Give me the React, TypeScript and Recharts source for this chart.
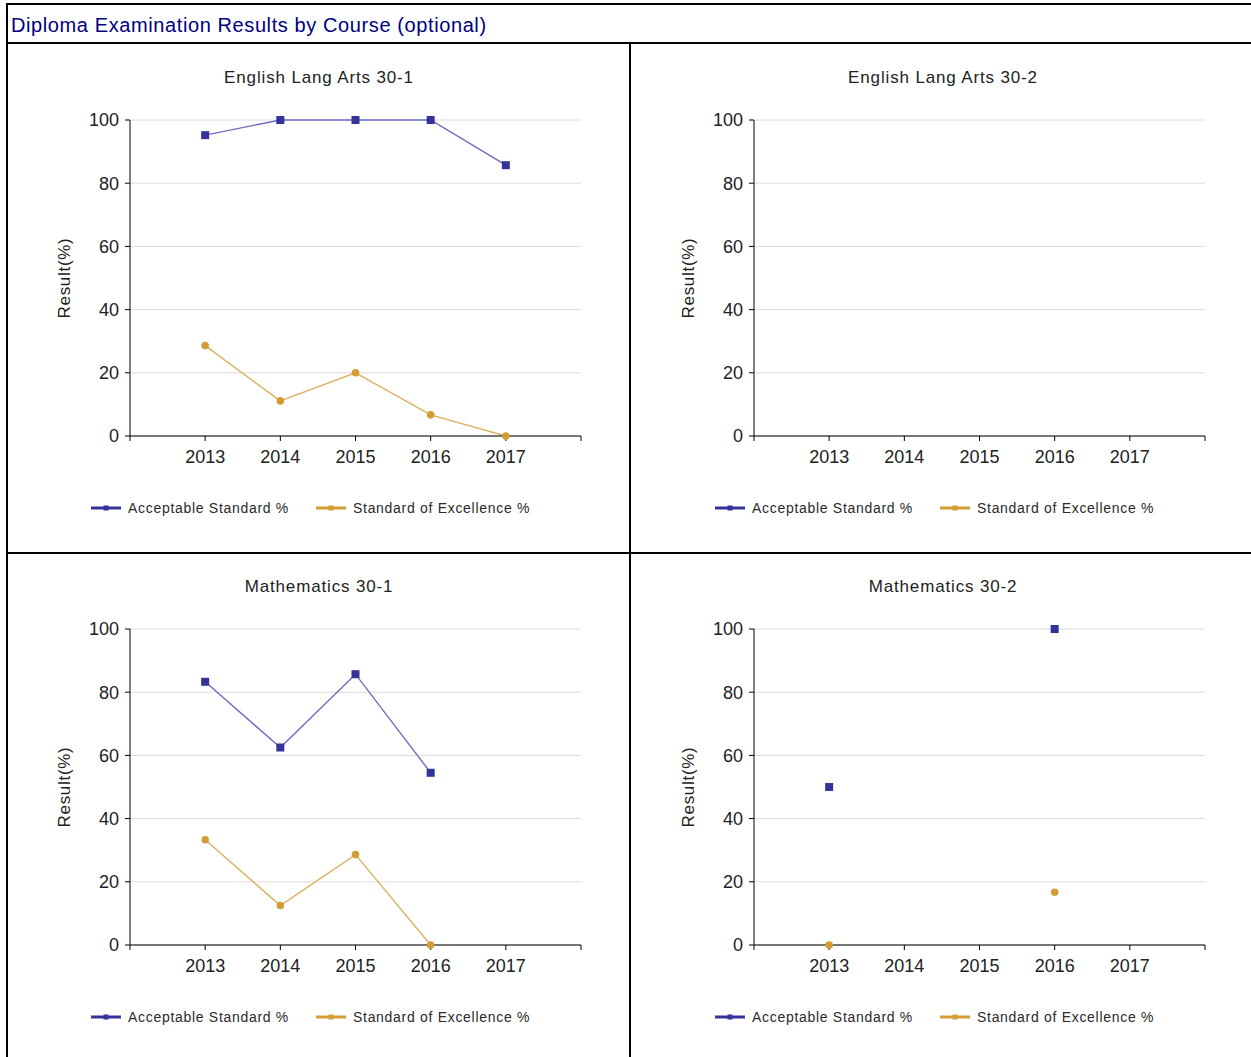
import React from 'react';
import { LineChart, Line, XAxis, YAxis, CartesianGrid, Legend } from 'recharts';

const years = [2013, 2014, 2015, 2016, 2017];
const yTicks = [0, 20, 40, 60, 80, 100];
const xTicks = [2012, 2013, 2014, 2015, 2016, 2017, 2018];

// values per course, null = no result
const ela301Acceptable = [95.2, 100, 100, 100, 85.7];
const ela301Excellence = [28.6, 11.1, 20, 6.7, 0];
const ela302Acceptable: (number | null)[] = [null, null, null, null, null];
const ela302Excellence: (number | null)[] = [null, null, null, null, null];
const math301Acceptable = [83.3, 62.5, 85.7, 54.5, null];
const math301Excellence = [33.3, 12.5, 28.6, 0, null];
const math302Acceptable = [50, null, null, 100, null];
const math302Excellence = [0, null, null, 16.7, null];

const courses = [
    { title: 'English Lang Arts 30-1', acc: ela301Acceptable, exc: ela301Excellence, left: 8, top: 45 },
    { title: 'English Lang Arts 30-2', acc: ela302Acceptable, exc: ela302Excellence, left: 632, top: 45 },
    { title: 'Mathematics 30-1', acc: math301Acceptable, exc: math301Excellence, left: 8, top: 554 },
    { title: 'Mathematics 30-2', acc: math302Acceptable, exc: math302Excellence, left: 632, top: 554 },
];

const ACC_MARK = '#333399';
const ACC_LINE = '#6d6dc2';
const EXC_MARK = '#d39d35';
const EXC_LINE = '#dbb262';
const FONT = '"Liberation Sans", Arial, sans-serif';

const SquareDot = (props: any) => {
    const { cx, cy, value } = props;
    if (value == null || cy == null) return <g key={props.key} />;
    return <rect key={props.key} x={cx - 4} y={cy - 4} width={8} height={8} fill={ACC_MARK} />;
};

const RoundDot = (props: any) => {
    const { cx, cy, value } = props;
    if (value == null || cy == null) return <g key={props.key} />;
    return <circle key={props.key} cx={cx} cy={cy} r={3.8} fill={EXC_MARK} />;
};

const LegendContent = () => {
    const item = (color: string, label: string, width: number) => (
        <div style={{ display: 'flex', alignItems: 'center', width }}>
            <svg width={30} height={8} style={{ marginRight: 7 }}>
                <rect x={0} y={2.5} width={30} height={3} fill={color} />
                <rect x={12.5} y={1.5} width={5} height={5} fill={color} />
            </svg>
            <span style={{ fontSize: 14, color: '#2a2a2a', letterSpacing: 0.7, fontFamily: FONT, whiteSpace: 'nowrap' }}>{label}</span>
        </div>
    );
    return (
        <div style={{ display: 'flex', paddingLeft: 83, height: 20, alignItems: 'center' }}>
            {item(ACC_MARK, 'Acceptable Standard %', 225)}
            {item(EXC_MARK, 'Standard of Excellence %', 250)}
        </div>
    );
};

const CoursePanel = ({ course }: { course: typeof courses[number] }) => {
    const data = years.map((y, i) => ({ year: y, acc: course.acc[i], exc: course.exc[i] }));
    // an empty course still needs its axes drawn from the fixed domains
    const empty = course.acc.every((v) => v == null) && course.exc.every((v) => v == null);
    return (
        <div style={{ position: 'absolute', left: course.left, top: course.top, width: 622, height: 506 }}>
            <div style={{ position: 'absolute', left: 0, top: 23, width: 622, textAlign: 'center', fontSize: 17, letterSpacing: 0.85, fontFamily: FONT, color: '#222' }}>
                {course.title}
            </div>
            <LineChart width={622} height={506} data={data} margin={{ top: 75, right: 49, left: 0, bottom: 33 }}>
                <CartesianGrid horizontal vertical={false} stroke="#dcdcdc" />
                <XAxis
                    dataKey="year"
                    type="number"
                    domain={[2012, 2018]}
                    allowDataOverflow={empty}
                    ticks={xTicks}
                    tickFormatter={(v: number) => (v === 2012 || v === 2018 ? '' : String(v))}
                    height={62}
                    tickSize={5}
                    tickMargin={9}
                    stroke="#000"
                    tick={{ fill: '#222', fontSize: 18, fontFamily: FONT }}
                />
                <YAxis
                    type="number"
                    domain={[0, 100]}
                    allowDataOverflow={empty}
                    ticks={yTicks}
                    width={122}
                    tickSize={5}
                    tickMargin={6}
                    stroke="#000"
                    tick={{ fill: '#222', fontSize: 18, fontFamily: FONT }}
                    label={{ value: 'Result(%)', angle: -90, position: 'center', dx: -5, style: { fill: '#222', fontSize: 17, letterSpacing: 0.7, fontFamily: FONT } }}
                />
                <Legend verticalAlign="bottom" height={20} content={LegendContent} />
                <Line dataKey="acc" stroke={ACC_LINE} strokeWidth={1.4} dot={SquareDot} activeDot={false} connectNulls={false} isAnimationActive={false} />
                <Line dataKey="exc" stroke={EXC_LINE} strokeWidth={1.4} dot={RoundDot} activeDot={false} connectNulls={false} isAnimationActive={false} />
            </LineChart>
        </div>
    );
};

export default function App() {
    return (
        <div style={{ position: 'absolute', left: 0, top: 0, width: 1251, height: 1057, overflow: 'hidden', background: '#fff' }}>
            {/* outer frame and title bar */}
            <div style={{ position: 'absolute', left: 6, top: 3, width: 1300, height: 1100, borderLeft: '2px solid #000', borderTop: '2px solid #000' }} />
            <div style={{ position: 'absolute', left: 8, top: 42, width: 1300, height: 2, background: '#000' }} />
            <div style={{ position: 'absolute', left: 629, top: 44, width: 2, height: 1100, background: '#000' }} />
            <div style={{ position: 'absolute', left: 8, top: 552, width: 1300, height: 2, background: '#000' }} />
            <div style={{ position: 'absolute', left: 11, top: 14, fontSize: 20, letterSpacing: 0.6, fontFamily: FONT, color: '#000080', whiteSpace: 'nowrap' }}>
                Diploma Examination Results by Course (optional)
            </div>
            {courses.map((c) => (
                <CoursePanel key={c.title} course={c} />
            ))}
        </div>
    );
}
